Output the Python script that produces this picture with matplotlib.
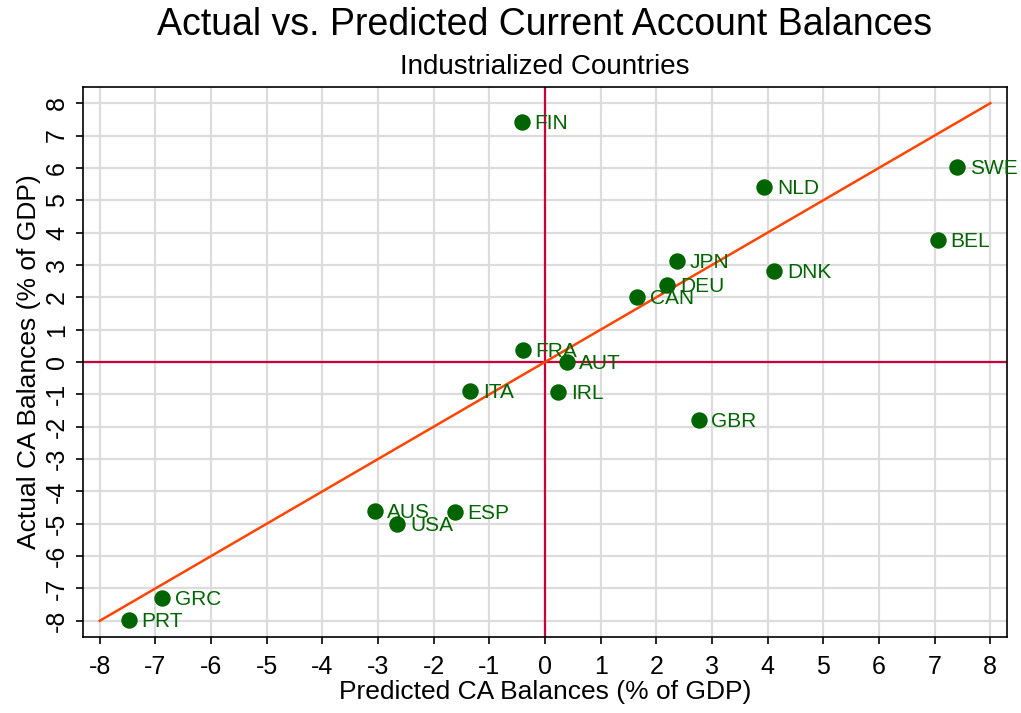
import numpy as np
import matplotlib
matplotlib.use("Agg")
import matplotlib.pyplot as plt

plt.rcParams["font.family"] = ["Liberation Sans", "DejaVu Sans"]
plt.rcParams["axes.unicode_minus"] = False

# data
countries = ["FIN", "SWE", "NLD", "BEL", "JPN", "DNK", "DEU", "CAN", "FRA",
             "AUT", "ITA", "IRL", "GBR", "AUS", "USA", "ESP", "GRC", "PRT"]
predicted = [-0.42, 7.41, 3.94, 7.06, 2.38, 4.12, 2.20, 1.66, -0.40,
             0.39, -1.34, 0.24, 2.76, -3.06, -2.65, -1.62, -6.88, -7.48]
actual = [7.41, 6.02, 5.40, 3.77, 3.12, 2.81, 2.38, 2.01, 0.37,
          0.0, -0.90, -0.93, -1.79, -4.60, -5.02, -4.64, -7.30, -7.97]
fit_x = [-8, 8]
fit_y = [-8, 8]
ticks = list(range(-8, 9))

green = "#006400"

fig = plt.figure(figsize=(10.21, 7.13), dpi=100)
ax = fig.add_axes([83 / 1021, 1 - 637 / 713, 924 / 1021, 550 / 713])

ax.set_xlim(-8.3, 8.3)
ax.set_ylim(-8.5, 8.5)
ax.set_xticks(ticks)
ax.set_yticks(ticks)
ax.grid(True, color="#dcdcdc", linewidth=1.6, zorder=0)
ax.set_axisbelow(True)

ax.axhline(0, color="#c8003c", linewidth=1.6, zorder=1)
ax.axvline(0, color="#c8003c", linewidth=1.6, zorder=1)
ax.plot(fit_x, fit_y, color="#ff4500", linewidth=1.8, zorder=2)

ax.scatter(predicted, actual, s=140, color=green, zorder=3, linewidths=0)
for c, px, py in zip(countries, predicted, actual):
    ax.annotate(c, (px, py), xytext=(9, -1), textcoords="offset points",
                va="center", ha="left", color=green, fontsize=15, zorder=4)

ax.tick_params(axis="both", labelsize=18, direction="out", length=5, width=1.2)
ax.tick_params(axis="x", pad=8)
ax.tick_params(axis="y", pad=5)
for lab in ax.get_yticklabels():
    lab.set_rotation(90)
    lab.set_va("center")
for sp in ax.spines.values():
    sp.set_linewidth(1.2)

ax.set_xlabel("Predicted CA Balances (% of GDP)", fontsize=19, labelpad=1)
ax.set_ylabel("Actual CA Balances (% of GDP)", fontsize=19, labelpad=3)

fig.text(545 / 1021, 1 - 25 / 713, "Actual vs. Predicted Current Account Balances",
         ha="center", va="center", fontsize=27)
fig.text(545 / 1021, 1 - 67 / 713, "Industrialized Countries",
         ha="center", va="center", fontsize=20)

plt.savefig("out.png", dpi=100)
